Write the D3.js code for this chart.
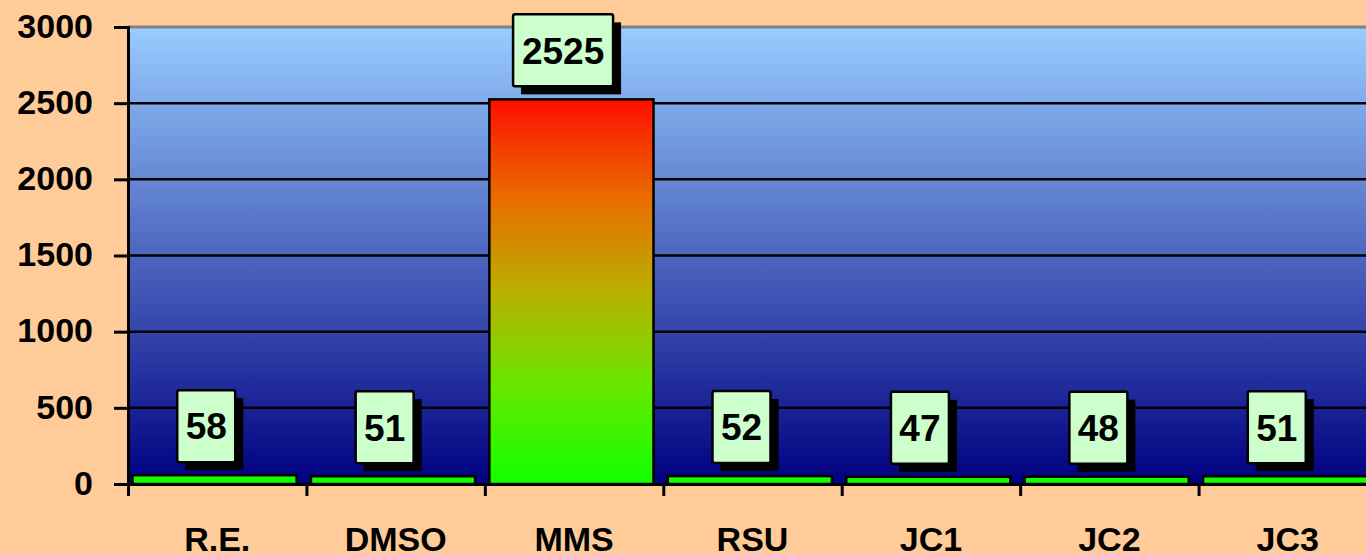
<!DOCTYPE html>
<html>
<head>
<meta charset="utf-8">
<script src="https://cdn.jsdelivr.net/npm/d3@7"></script>
<style>
  html, body { margin: 0; padding: 0; background: #FFCC99; overflow: hidden; }
</style>
</head>
<body>
<div id="chart"></div>
<script>
// chart data
var categories = ["R.E.", "DMSO", "MMS", "RSU", "JC1", "JC2", "JC3"];
var values = [58, 51, 2525, 52, 47, 48, 51];
var yTicks = [0, 500, 1000, 1500, 2000, 2500, 3000];

var W = 1366, H = 554;
var plotLeft = 128, plotRight = 1377, plotTop = 27, plotBottom = 484;
var fontFam = "'Liberation Sans', Arial, sans-serif";

var svg = d3.select("#chart").append("svg")
    .attr("width", W)
    .attr("height", H)
    .style("font-family", fontFam)
    .style("font-weight", "bold");

svg.append("rect").attr("width", W).attr("height", H).attr("fill", "#FFCC99");

var x = d3.scaleBand()
    .domain(categories)
    .range([plotLeft, plotRight])
    .padding(0);

var xEdge = d3.scaleLinear()
    .domain([0, categories.length])
    .range([plotLeft, plotRight]);

var y = d3.scaleLinear()
    .domain([0, 3000])
    .range([plotBottom, plotTop]);

var defs = svg.append("defs");

var bg = defs.append("linearGradient").attr("id", "bgGrad")
    .attr("x1", 0).attr("y1", 0).attr("x2", 0).attr("y2", 1);
bg.append("stop").attr("offset", "0%").attr("stop-color", "#99CCFF");
bg.append("stop").attr("offset", "100%").attr("stop-color", "#000080");

// red -> green, spread over the tallest bar
var barGrad = defs.append("linearGradient").attr("id", "barGrad")
    .attr("gradientUnits", "userSpaceOnUse")
    .attr("x1", 0).attr("x2", 0)
    .attr("y1", y(d3.max(values))).attr("y2", y(0));
barGrad.append("stop").attr("offset", "0%").attr("stop-color", "#FF0E00");
barGrad.append("stop").attr("offset", "25%").attr("stop-color", "#EA6A00");
barGrad.append("stop").attr("offset", "50%").attr("stop-color", "#B9B000");
barGrad.append("stop").attr("offset", "75%").attr("stop-color", "#66E800");
barGrad.append("stop").attr("offset", "100%").attr("stop-color", "#10FF00");

// plot area
svg.append("rect")
    .attr("x", plotLeft).attr("y", plotTop)
    .attr("width", plotRight - plotLeft).attr("height", plotBottom - plotTop)
    .attr("fill", "url(#bgGrad)");

svg.append("line")
    .attr("x1", plotLeft).attr("x2", plotRight)
    .attr("y1", plotTop).attr("y2", plotTop)
    .attr("stroke", "#808080").attr("stroke-width", 3);

// gridlines
svg.append("g").selectAll("line")
    .data(yTicks.filter(function (d) { return d > 0 && d < 3000; }))
    .enter().append("line")
    .attr("x1", plotLeft).attr("x2", plotRight)
    .attr("y1", function (d) { return y(d); })
    .attr("y2", function (d) { return y(d); })
    .attr("stroke", "#000").attr("stroke-width", 2.5);

// bars
var bw = x.bandwidth();
svg.append("g").selectAll("rect")
    .data(values)
    .enter().append("rect")
    .attr("x", function (d, i) { return x(categories[i]) + 4.5; })
    .attr("y", function (d) { return y(d); })
    .attr("width", bw * 0.92)
    .attr("height", function (d) { return y(0) - y(d); })
    .attr("fill", "url(#barGrad)")
    .attr("stroke", "#000")
    .attr("stroke-width", 2.5);

// y axis
var yAxis = svg.append("g")
    .attr("transform", "translate(" + plotLeft + ",0)")
    .call(d3.axisLeft(y).tickValues(yTicks).tickFormat(d3.format("d")).tickSize(14).tickPadding(21));
yAxis.select(".domain").attr("stroke", "#000").attr("stroke-width", 3);
yAxis.selectAll(".tick line").attr("stroke", "#000").attr("stroke-width", 3);
yAxis.selectAll(".tick text")
    .attr("fill", "#000")
    .attr("font-size", 34)
    .attr("font-weight", "bold")
    .attr("font-family", fontFam)
    .attr("dy", "0.3em");

// x axis: ticks on band edges
var xAxis = svg.append("g")
    .attr("transform", "translate(0," + plotBottom + ")")
    .call(d3.axisBottom(xEdge).tickValues(d3.range(categories.length + 1)).tickSize(12).tickFormat(""));
xAxis.select(".domain").attr("stroke", "#000").attr("stroke-width", 3);
xAxis.selectAll(".tick line").attr("stroke", "#000").attr("stroke-width", 3);

// category labels
var xLab = svg.append("g")
    .attr("transform", "translate(0," + plotBottom + ")")
    .call(d3.axisBottom(x).tickSize(0).tickPadding(0));
xLab.select(".domain").remove();
xLab.selectAll(".tick text")
    .attr("fill", "#000")
    .attr("font-size", 34)
    .attr("font-weight", "bold")
    .attr("font-family", fontFam)
    .attr("y", 67)
    .attr("dy", 0);

// value label boxes with shadows
var boxW = 58, boxH = 72, shadow = 8, gap = 13;
function labelW(d) { return d >= 1000 ? 100 : boxW; }

var labels = svg.append("g").selectAll("g")
    .data(values)
    .enter().append("g")
    .attr("transform", function (d, i) {
        var cx = x(categories[i]) + bw / 2 - 11;
        return "translate(" + (cx - labelW(d) / 2) + "," + (y(d) - gap - boxH) + ")";
    });

labels.append("rect")
    .attr("x", shadow).attr("y", shadow)
    .attr("width", labelW)
    .attr("height", boxH)
    .attr("fill", "#000");

labels.append("rect")
    .attr("x", 0).attr("y", 0)
    .attr("width", labelW)
    .attr("height", boxH)
    .attr("rx", 2)
    .attr("fill", "#CCFFCC")
    .attr("stroke", "#000")
    .attr("stroke-width", 2.5);

labels.append("text")
    .attr("x", function (d) { return labelW(d) / 2; })
    .attr("y", boxH / 2)
    .attr("dy", "0.36em")
    .attr("text-anchor", "middle")
    .attr("font-size", 37)
    .attr("fill", "#000")
    .text(function (d) { return d; });
</script>
</body>
</html>
